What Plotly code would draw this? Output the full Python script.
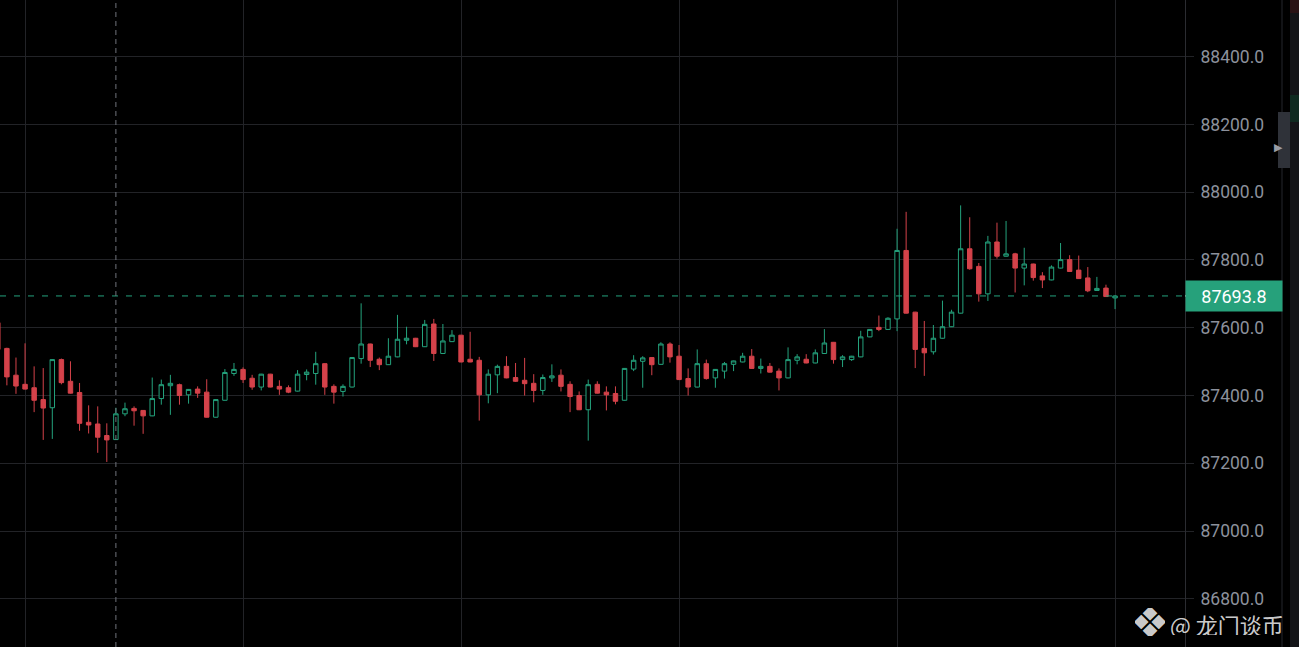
"""
BTC 15m candles - dark chart with last price marker and watermark.
"""

import plotly.graph_objects as go

# Theme
BG = "#000000"
GRID = "#222327"
AXIS_LINE = "#2b2c31"
LABEL = "#8c919c"
UP = "#24a37d"
DOWN = "#d4424a"
FONT = "Roboto, 'Open Sans', sans-serif"

# Candle data, oldest -> newest
OPEN = [
    87615, 87539, 87460, 87433, 87423, 87388, 87364, 87506, 87442, 87409,
    87321, 87316, 87282, 87270, 87346, 87362, 87356, 87340, 87391, 87429,
    87432, 87402, 87419, 87410, 87336, 87386, 87465, 87477, 87451, 87425,
    87463, 87427, 87423, 87413, 87462, 87465, 87494, 87427, 87412, 87425,
    87509, 87552, 87507, 87491, 87514, 87563, 87569, 87544, 87611, 87524,
    87559, 87578, 87507, 87504, 87402, 87461, 87486, 87453, 87445, 87436,
    87415, 87452, 87460, 87433, 87400, 87358, 87433, 87410, 87406, 87386,
    87478, 87501, 87512, 87492, 87552, 87516, 87450, 87425, 87494, 87452,
    87472, 87492, 87499, 87516, 87480, 87486, 87472, 87452, 87504, 87507,
    87496, 87524, 87557, 87506, 87506, 87514, 87573, 87601, 87595, 87626,
    87828, 87646, 87539, 87529, 87569, 87603, 87643, 87833, 87781, 87700,
    87853, 87811, 87818, 87776, 87788, 87753, 87741, 87776, 87801, 87770,
    87747, 87710, 87717, 87688,
]
HIGH = [
    87617, 87541, 87512, 87554, 87486, 87481, 87507, 87509, 87501, 87437,
    87371, 87368, 87318, 87364, 87379, 87368, 87357, 87453, 87447, 87461,
    87435, 87419, 87427, 87448, 87389, 87478, 87496, 87483, 87461, 87464,
    87464, 87445, 87430, 87475, 87477, 87529, 87495, 87433, 87433, 87513,
    87672, 87553, 87512, 87569, 87638, 87603, 87570, 87623, 87626, 87611,
    87593, 87579, 87588, 87514, 87477, 87491, 87516, 87496, 87511, 87463,
    87462, 87492, 87477, 87442, 87412, 87447, 87442, 87427, 87427, 87481,
    87519, 87516, 87513, 87557, 87557, 87549, 87480, 87536, 87506, 87478,
    87499, 87503, 87526, 87537, 87509, 87496, 87480, 87542, 87522, 87522,
    87536, 87596, 87558, 87519, 87517, 87591, 87596, 87636, 87631, 87892,
    87942, 87647, 87620, 87608, 87680, 87653, 87961, 87926, 87791, 87871,
    87910, 87915, 87821, 87836, 87789, 87764, 87784, 87850, 87814, 87813,
    87779, 87750, 87727, 87696,
]
LOW = [
    87499, 87430, 87405, 87418, 87351, 87269, 87272, 87433, 87406, 87296,
    87288, 87231, 87204, 87269, 87339, 87311, 87287, 87339, 87373, 87343,
    87373, 87376, 87393, 87335, 87335, 87385, 87458, 87437, 87417, 87415,
    87424, 87402, 87407, 87412, 87445, 87432, 87402, 87376, 87397, 87424,
    87494, 87484, 87475, 87490, 87513, 87551, 87543, 87543, 87502, 87523,
    87558, 87498, 87498, 87326, 87377, 87407, 87451, 87440, 87400, 87380,
    87402, 87440, 87412, 87351, 87357, 87267, 87406, 87356, 87374, 87385,
    87472, 87423, 87460, 87491, 87497, 87446, 87400, 87424, 87447, 87423,
    87450, 87472, 87498, 87479, 87465, 87468, 87415, 87451, 87492, 87495,
    87495, 87523, 87494, 87484, 87502, 87513, 87572, 87590, 87594, 87590,
    87642, 87481, 87458, 87521, 87568, 87602, 87642, 87771, 87677, 87679,
    87804, 87810, 87704, 87725, 87739, 87717, 87740, 87775, 87765, 87744,
    87705, 87709, 87691, 87655,
]
CLOSE = [
    87536, 87455, 87428, 87419, 87386, 87363, 87506, 87438, 87407, 87318,
    87313, 87277, 87269, 87346, 87361, 87355, 87340, 87391, 87432, 87436,
    87400, 87418, 87407, 87336, 87388, 87468, 87477, 87447, 87425, 87463,
    87425, 87419, 87410, 87463, 87469, 87494, 87425, 87410, 87427, 87512,
    87552, 87504, 87491, 87516, 87566, 87569, 87544, 87610, 87524, 87561,
    87578, 87499, 87499, 87402, 87463, 87486, 87452, 87442, 87435, 87415,
    87453, 87458, 87427, 87397, 87358, 87432, 87407, 87402, 87383, 87480,
    87504, 87511, 87491, 87552, 87514, 87447, 87425, 87494, 87450, 87477,
    87494, 87502, 87516, 87480, 87486, 87469, 87452, 87506, 87514, 87496,
    87526, 87555, 87506, 87514, 87516, 87573, 87595, 87595, 87628, 87828,
    87643, 87536, 87526, 87569, 87603, 87646, 87833, 87774, 87700, 87853,
    87811, 87818, 87776, 87788, 87748, 87741, 87779, 87801, 87766, 87745,
    87709, 87716, 87692, 87693.8,
]

LAST_PRICE = 87693.8
CROSSHAIR_BAR = 13
Y_RANGE = [86658, 88567]
X_RANGE = [0.242, 130.70]
WATERMARK = "@ 龙门谈币"

bars = list(range(len(CLOSE)))

fig = go.Figure(go.Candlestick(
    x=bars,
    open=OPEN,
    high=HIGH,
    low=LOW,
    close=CLOSE,
    increasing=dict(line=dict(color=UP, width=1), fillcolor=BG),
    decreasing=dict(line=dict(color=DOWN, width=1), fillcolor=DOWN),
    whiskerwidth=0,
    hoverinfo="skip",
    showlegend=False,
))

# Last price dashed line
fig.add_shape(
    type="line", xref="paper", yref="y",
    x0=0, x1=1, y0=LAST_PRICE, y1=LAST_PRICE,
    line=dict(color=UP, width=1, dash="6px,8px"),
)

# Crosshair (vertical dashed)
fig.add_shape(
    type="line", xref="x", yref="paper",
    x0=CROSSHAIR_BAR, x1=CROSSHAIR_BAR, y0=0, y1=1,
    line=dict(color="#6f727a", width=1, dash="5px,4px"),
)

# Last price box on the axis
fig.add_annotation(
    xref="paper", yref="y", x=1.0, y=LAST_PRICE,
    xanchor="left", yanchor="middle",
    text="87693.8", showarrow=False,
    font=dict(family=FONT, size=18, color="#ffffff"),
    bgcolor="#26a17b", width=92, height=26, borderpad=2, align="center",
)
fig.add_shape(
    type="line", xref="paper", yref="y",
    x0=1.0, x1=1193 / 1185, y0=LAST_PRICE, y1=LAST_PRICE,
    line=dict(color="#ffffff", width=1),
)

# Right hand UI strip + scroll handle
fig.add_shape(
    type="line", xref="paper", yref="paper",
    x0=1282 / 1185, x1=1282 / 1185, y0=0, y1=1,
    line=dict(color="#25272c", width=1),
)
fig.add_shape(
    type="rect", xref="paper", yref="paper",
    x0=1290 / 1185, x1=1310 / 1185, y0=0, y1=1,
    fillcolor="#141518", line_width=0,
)
fig.add_shape(
    type="rect", xref="paper", yref="paper",
    x0=1290 / 1185, x1=1310 / 1185, y0=1 - 122 / 647, y1=1 - 95 / 647,
    fillcolor="#0f2a20", line_width=0,
)
fig.add_shape(
    type="rect", xref="paper", yref="paper",
    x0=1290 / 1185, x1=1310 / 1185, y0=1 - 13 / 647, y1=1,
    fillcolor="#2a1315", line_width=0,
)
fig.add_shape(
    type="rect", xref="paper", yref="paper",
    x0=1278 / 1185, x1=1290 / 1185, y0=1 - 168 / 647, y1=1 - 112 / 647,
    fillcolor="#2f3239", line_width=0,
)
fig.add_annotation(
    xref="paper", yref="paper", x=1284.5 / 1185, y=1 - 139 / 647,
    text="▶", showarrow=False,
    font=dict(family="DejaVu Sans", size=11, color="#9a9da5"),
)

# Watermark
fig.add_annotation(
    xref="paper", yref="paper", x=1150 / 1185, y=1 - 622 / 647,
    xanchor="center", yanchor="middle", text="❖", showarrow=False,
    font=dict(family="DejaVu Sans", size=44, color="rgba(230,230,230,0.9)"),
    width=30, height=28, valign="middle", borderpad=0,
)
fig.add_annotation(
    xref="paper", yref="paper", x=1169 / 1185, y=1 - 624 / 647,
    xanchor="left", yanchor="middle", text=WATERMARK, showarrow=False,
    font=dict(family="'Noto Sans CJK SC', sans-serif", size=22,
              color="rgba(230,230,230,0.9)"),
    height=22, valign="middle", borderpad=0,
)

fig.update_layout(
    width=1299,
    height=647,
    margin=dict(l=0, r=114, t=0, b=0),
    paper_bgcolor=BG,
    plot_bgcolor=BG,
    font=dict(family=FONT, color=LABEL),
    boxgap=0.3,
    xaxis=dict(
        range=X_RANGE,
        tickmode="linear", tick0=3, dtick=24,
        showticklabels=False,
        showgrid=True, gridcolor=GRID, gridwidth=1,
        zeroline=False, showline=False,
        rangeslider_visible=False,
        fixedrange=True,
    ),
    yaxis=dict(
        range=Y_RANGE,
        side="right",
        tickmode="linear", tick0=0, dtick=200,
        tickformat=".1f",
        tickfont=dict(family=FONT, size=17.5, color=LABEL),
        showgrid=True, gridcolor=GRID, gridwidth=1,
        zeroline=False,
        showline=True, linecolor=AXIS_LINE, linewidth=1,
        ticks="outside", ticklen=8, tickcolor=GRID,
        ticklabelstandoff=3,
        fixedrange=True,
    ),
    hovermode=False,
)

fig.write_html(
    "out.html",
    config={"displayModeBar": False},
    post_script="document.body.style.margin='0';document.body.style.background='#000';",
)
